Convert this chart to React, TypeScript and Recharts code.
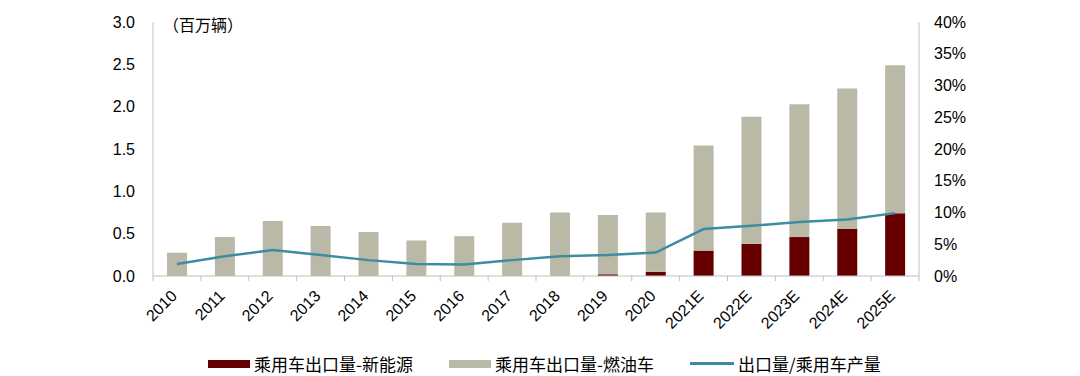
import React from 'react';
import { ComposedChart, Bar, Line, XAxis, YAxis } from 'recharts';

const years = ['2010', '2011', '2012', '2013', '2014', '2015', '2016', '2017', '2018', '2019', '2020', '2021E', '2022E', '2023E', '2024E', '2025E'];
const nevExports = [0, 0, 0, 0, 0, 0, 0, 0, 0, 0.02, 0.05, 0.3, 0.38, 0.46, 0.555, 0.74];
const fuelExports = [0.275, 0.46, 0.65, 0.59, 0.52, 0.42, 0.47, 0.63, 0.75, 0.7, 0.7, 1.24, 1.5, 1.57, 1.66, 1.75];
const exportShare = [0.019, 0.031, 0.041, 0.033, 0.025, 0.019, 0.018, 0.025, 0.031, 0.033, 0.037, 0.074, 0.079, 0.085, 0.089, 0.099];
const leftTicks = [0, 0.5, 1, 1.5, 2, 2.5, 3];
const rightTicks = [0, 0.05, 0.1, 0.15, 0.2, 0.25, 0.3, 0.35, 0.4];

const data = years.map((year, i) => ({
  year,
  nev: nevExports[i],
  fuel: fuelExports[i],
  share: exportShare[i],
}));

const W = 1080;
const H = 376;
const LEFT_W = 153;
const RIGHT_W = 60;
const RIGHT_M = 101;
const band = (W - LEFT_W - RIGHT_W - RIGHT_M) / years.length;

const NEV = '#660000';
const FUEL = '#BAB9A7';
const LINE = '#3C8DA0';
const AXIS = '#BFBFBF';
const font = '"Liberation Sans", Arial, sans-serif';
const cjk = '"Noto Sans CJK SC", "Liberation Sans", sans-serif';

function XTick(props: any) {
  const { x, y, payload, index } = props;
  return (
    <g>
      <line x1={x - band / 2} y1={y} x2={x - band / 2} y2={y + 5} stroke={AXIS} />
      {index === years.length - 1 && (
        <line x1={x + band / 2} y1={y} x2={x + band / 2} y2={y + 5} stroke={AXIS} />
      )}
      <text
        x={x + 1}
        y={y + 21}
        textAnchor="end"
        transform={`rotate(-45 ${x + 1} ${y + 21})`}
        fontSize={16}
        fontFamily={font}
        fill="#000"
      >
        {payload.value}
      </text>
    </g>
  );
}

const legendItems = [
  { label: '乘用车出口量-新能源', color: NEV, kind: 'bar', left: 208 },
  { label: '乘用车出口量-燃油车', color: FUEL, kind: 'bar', left: 449 },
  { label: '出口量/乘用车产量', color: LINE, kind: 'line', left: 690 },
];

export default function App() {
  return (
    <div style={{ position: 'absolute', left: 0, top: 0, width: W, height: H, background: '#fff' }}>
      <ComposedChart width={W} height={H} data={data} margin={{ top: 22, right: RIGHT_M, left: 0, bottom: 40 }}>
        <XAxis
          dataKey="year"
          height={60}
          stroke={AXIS}
          tickLine={false}
          tickSize={0}
          tickMargin={0}
          interval={0}
          tick={<XTick />}
        />
        <YAxis
          yAxisId="left"
          width={LEFT_W}
          domain={[0, 3]}
          ticks={leftTicks}
          tickFormatter={(v: number) => v.toFixed(1)}
          stroke={AXIS}
          tickLine={false}
          tickSize={0}
          tickMargin={18}
          tick={{ fill: '#000', fontSize: 16, fontFamily: font }}
        />
        <YAxis
          yAxisId="right"
          orientation="right"
          width={RIGHT_W}
          domain={[0, 0.4]}
          ticks={rightTicks}
          tickFormatter={(v: number) => `${Math.round(v * 100)}%`}
          stroke={AXIS}
          tickLine={false}
          tickSize={0}
          tickMargin={15}
          tick={{ fill: '#000', fontSize: 16, fontFamily: font, textAnchor: 'start' }}
        />
        <Bar yAxisId="left" dataKey="nev" stackId="a" fill={NEV} barSize={20} isAnimationActive={false} />
        <Bar yAxisId="left" dataKey="fuel" stackId="a" fill={FUEL} barSize={20} isAnimationActive={false} />
        <Line
          yAxisId="right"
          dataKey="share"
          stroke={LINE}
          strokeWidth={2.5}
          dot={false}
          activeDot={false}
          isAnimationActive={false}
        />
      </ComposedChart>
      <div style={{ position: 'absolute', left: 163, top: 12, fontSize: 16, fontFamily: cjk, color: '#000' }}>
        （百万辆）
      </div>
      {legendItems.map((item) => (
        <div
          key={item.label}
          style={{
            position: 'absolute',
            left: item.left,
            top: 351,
            display: 'flex',
            alignItems: 'center',
            fontSize: 17,
            fontFamily: cjk,
            color: '#000',
            whiteSpace: 'nowrap',
          }}
        >
          <span
            style={{
              display: 'inline-block',
              width: item.kind === 'bar' ? 42 : 44,
              height: item.kind === 'bar' ? 8 : 3,
              background: item.color,
              marginRight: 4,
            }}
          />
          {item.label}
        </div>
      ))}
    </div>
  );
}
